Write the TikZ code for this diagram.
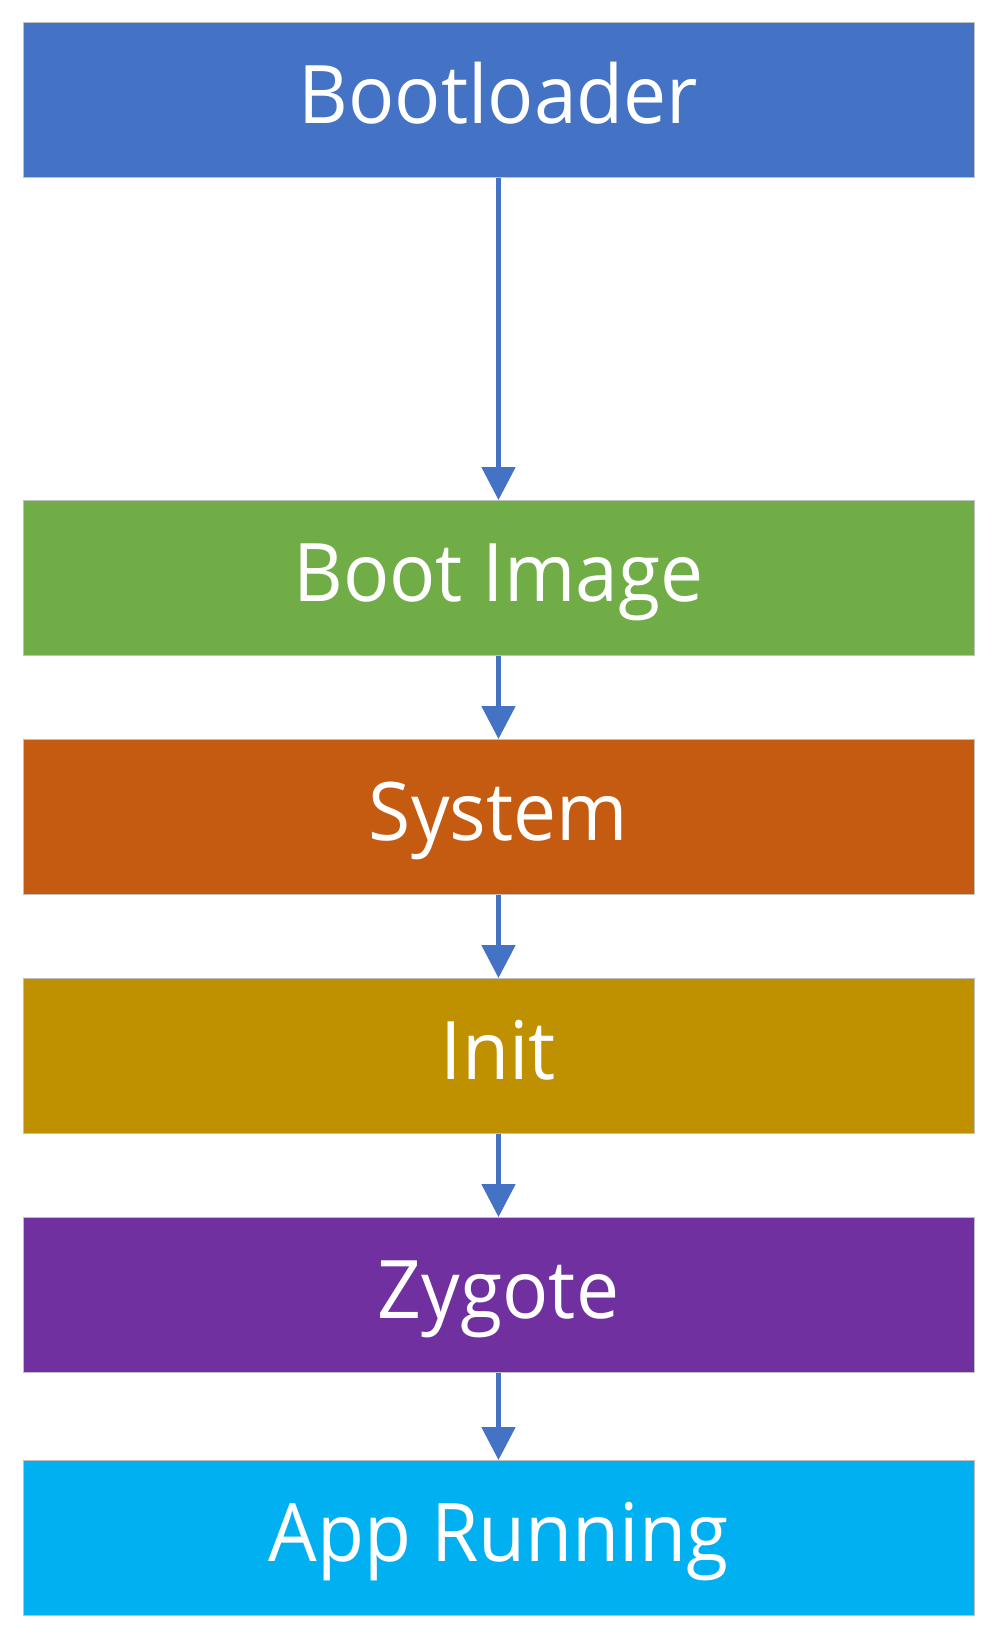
\documentclass[tikz,border=0pt]{standalone}
\usepackage{fontspec}
\setmainfont[FakeStretch=0.95]{Open Sans}
\usetikzlibrary{positioning, arrows.meta}
\definecolor{bootblue}{HTML}{4472C4}
\definecolor{bootgreen}{HTML}{70AD47}
\definecolor{bootorange}{HTML}{C55A11}
\definecolor{bootgold}{HTML}{BF9000}
\definecolor{bootpurple}{HTML}{7030A0}
\definecolor{bootcyan}{HTML}{00B0F0}
\definecolor{bootedge}{HTML}{BFBFBF}
\tikzset{stage/.style={draw=bootedge, line width=0.5pt, minimum width=19.02cm,
           minimum height=3.1cm, inner sep=0pt, text=white,
           font=\fontsize{46}{50}\selectfont, text height=1.4cm, text depth=0.48cm},
         flow/.style={draw=bootblue, line width=0.1cm,
           -{Triangle[width=0.66cm, length=0.66cm]}}}

\begin{document}
\begin{tikzpicture}

        \useasboundingbox (0,0) rectangle (19.92,-32.78);

        % Nodes
        \node[stage, fill=bootblue] (boot) at (9.97,-2.0) {Bootloader};
        \node[stage, fill=bootgreen] (image) at (9.97,-11.56) {Boot Image};
        \node[stage, fill=bootorange] (system) at (9.97,-16.34) {System};
        \node[stage, fill=bootgold] (init) at (9.97,-21.12) {Init};
        \node[stage, fill=bootpurple] (zygote) at (9.97,-25.90) {Zygote};
        \node[stage, fill=bootcyan] (app) at (9.97,-30.76) {App Running};

        % Edges
        \draw[flow] (boot) -- (image);
        \draw[flow] (image) -- (system);
        \draw[flow] (system) -- (init);
        \draw[flow] (init) -- (zygote);
        \draw[flow] (zygote) -- (app);

        \end{tikzpicture}
\end{document}
